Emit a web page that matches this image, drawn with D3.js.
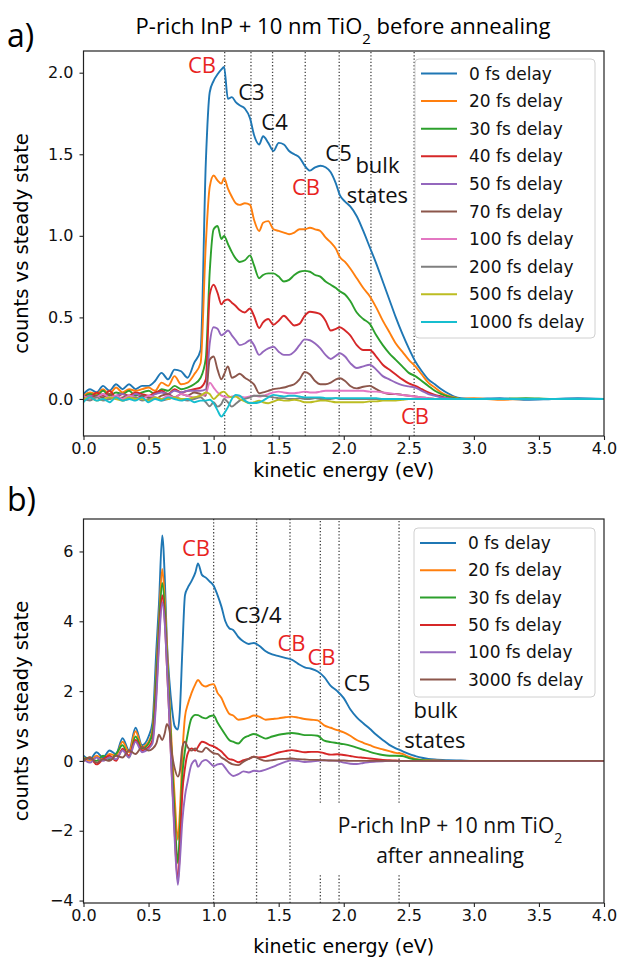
<!DOCTYPE html>
<meta charset="utf-8">

<!-- Load d3.js -->
<script src="https://cdn.jsdelivr.net/npm/d3@7"></script>

<style>
  body { margin: 0; background: #fff; }
</style>

<div id="my_dataviz"></div>
<script>

// ---------- panel a) data : before annealing ----------
var energyA = [
  0.00,0.05,0.10,0.15,0.20,0.25,0.30,0.35,0.40,0.45,0.50,0.55,0.60,0.65,0.70,0.75,0.80,0.85,0.90,
  0.94,0.97,1.00,1.03,1.06,1.08,1.11,1.14,1.17,1.20,1.24,1.28,1.31,1.35,1.38,1.42,1.46,1.50,1.54,1.58,1.62,1.66,1.70,1.74,1.78,1.82,1.86,1.90,1.94,1.97,2.01,2.05,
  2.10,2.15,2.20,2.25,2.30,2.35,2.40,2.45,2.50,2.55,2.60,2.65,2.70,2.75,2.80,2.85,2.90,
  3.0,3.2,3.4,3.6,3.8,4.0]

var delaysA = ["0 fs delay","20 fs delay","30 fs delay","40 fs delay","50 fs delay",
               "70 fs delay","100 fs delay","200 fs delay","500 fs delay","1000 fs delay"]

var a0 = [
  0.03,0.06,0.04,0.08,0.05,0.09,0.06,0.09,0.06,0.08,0.08,0.11,0.16,0.12,0.18,0.17,0.13,0.22,0.30,
  1.45,1.88,1.95,1.99,2.02,2.035,1.84,1.85,1.82,1.80,1.78,1.72,1.62,1.56,1.61,1.57,1.52,1.57,1.56,1.52,1.50,1.48,1.43,1.40,1.42,1.43,1.42,1.39,1.32,1.25,1.21,1.18,
  1.12,1.03,0.93,0.83,0.72,0.61,0.50,0.40,0.31,0.23,0.17,0.12,0.09,0.06,0.035,0.015,0.005,
  0.0,0.005,-0.005,0.0,0.005,0.0]
var a20 = [
  0.02,0.04,0.03,0.06,0.03,0.07,0.04,0.06,0.05,0.06,0.07,0.05,0.10,0.08,0.14,0.09,0.10,0.15,0.22,
  0.95,1.30,1.37,1.34,1.32,1.355,1.29,1.24,1.20,1.19,1.20,1.19,1.10,1.03,1.08,1.09,1.04,1.03,1.02,1.01,1.02,1.04,1.04,1.05,1.04,1.03,0.99,0.96,0.92,0.87,0.84,0.80,
  0.74,0.68,0.63,0.56,0.48,0.41,0.34,0.29,0.24,0.20,0.15,0.10,0.07,0.04,0.02,0.01,0.0,
  0.005,-0.005,0.0,0.0,0.0,0.0]
var a30 = [
  0.01,0.03,0.02,0.05,0.02,0.04,0.03,0.05,0.02,0.04,0.05,0.03,0.06,0.05,0.08,0.06,0.07,0.09,0.13,
  0.25,0.78,1.04,1.06,0.98,1.00,0.95,0.90,0.86,0.84,0.85,0.88,0.82,0.74,0.76,0.77,0.77,0.75,0.72,0.73,0.76,0.78,0.785,0.78,0.76,0.75,0.72,0.70,0.68,0.66,0.64,0.60,
  0.53,0.49,0.46,0.39,0.33,0.28,0.24,0.20,0.16,0.14,0.11,0.08,0.05,0.03,0.015,0.005,0.0,
  0,0,0.005,0,0,0]
var a40 = [
  0.02,0.01,0.04,0.02,0.05,0.01,0.03,0.02,0.04,0.03,0.02,0.04,0.05,0.03,0.06,0.04,0.05,0.06,0.07,
  0.12,0.64,0.70,0.65,0.58,0.60,0.61,0.59,0.57,0.545,0.53,0.555,0.51,0.435,0.47,0.49,0.455,0.48,0.51,0.48,0.45,0.46,0.51,0.535,0.53,0.52,0.48,0.42,0.43,0.44,0.42,0.39,
  0.33,0.30,0.30,0.26,0.21,0.18,0.15,0.12,0.095,0.08,0.06,0.04,0.025,0.015,0.005,0.0,0.0,
  0,0,0,0,0,0]
var a50 = [
  0.00,0.02,0.01,0.03,0.00,0.02,0.03,0.01,0.03,0.02,0.01,0.03,0.04,0.03,0.05,0.04,0.05,0.05,0.05,
  0.06,0.34,0.44,0.43,0.39,0.40,0.42,0.39,0.36,0.33,0.34,0.36,0.33,0.27,0.29,0.31,0.32,0.29,0.27,0.27,0.29,0.33,0.365,0.36,0.34,0.31,0.27,0.245,0.265,0.28,0.26,0.22,
  0.19,0.20,0.21,0.18,0.14,0.12,0.10,0.085,0.077,0.07,0.05,0.03,0.02,0.01,0.005,0,0,
  0,0,0,0,0,0]
var a70 = [
  0.01,0.00,0.02,0.01,0.03,0.00,0.01,0.02,0.00,0.02,0.01,0.00,0.02,0.03,0.01,0.03,0.02,0.04,0.03,
  0.02,0.24,0.26,0.18,0.12,0.15,0.20,0.13,0.14,0.155,0.13,0.11,0.09,0.035,0.04,0.05,0.06,0.065,0.07,0.08,0.09,0.12,0.165,0.15,0.11,0.09,0.09,0.10,0.12,0.127,0.11,0.08,
  0.065,0.075,0.08,0.06,0.04,0.03,0.03,0.025,0.02,0.015,0.01,0.005,0,0,0,0,0,
  0,0,0,0,0,0]
var a100 = [
  0.02,0.00,0.01,0.03,0.01,0.02,0.00,0.02,0.01,0.00,0.02,0.01,0.00,0.02,0.01,0.03,0.02,0.01,0.02,
  0.03,0.10,0.07,0.04,0.02,0.015,0.01,0.015,0.02,0.015,0.01,0.015,0.02,0.015,0.02,0.03,0.04,0.045,0.04,0.035,0.035,0.04,0.045,0.04,0.04,0.045,0.05,0.05,0.05,0.05,0.05,0.05,
  0.05,0.05,0.045,0.045,0.04,0.035,0.03,0.025,0.02,0.015,0.01,0.005,0,0,0,0,0,
  0,0,0,0,0,0]
var a200 = [
  0.00,-0.01,0.01,-0.01,0.00,0.01,-0.01,0.00,0.01,-0.01,0.00,0.01,-0.01,0.00,0.01,0.00,-0.01,0.00,0.01,
  -0.02,-0.045,-0.02,-0.047,-0.03,0.0,-0.02,-0.047,-0.03,-0.01,0.0,0.01,0.02,0.02,0.02,0.015,0.01,0.005,0.005,0.0,0.0,0.005,0.0,0.0,0.005,0,0,0,0.005,0,0,0,
  0,0,0,0,0,0,0,0,0,0,0,0,0,0,0,0,0,
  0,0,0,0,0,0]
var a500 = [
  0.00,0.01,-0.01,0.00,0.01,0.00,-0.01,0.01,0.00,0.00,-0.01,0.01,0.00,0.00,0.01,0.00,0.00,0.01,0.02,
  0.04,0.03,0.0,0.02,0.04,0.045,0.02,0.01,0.015,0.0,-0.015,-0.026,-0.02,-0.01,-0.02,-0.026,-0.015,-0.005,-0.01,-0.01,-0.005,-0.01,-0.02,-0.02,-0.015,-0.01,-0.01,-0.015,-0.02,-0.02,-0.02,-0.02,
  -0.02,-0.02,-0.015,-0.015,-0.01,-0.01,-0.01,-0.005,0,0,0,0,0,0,0,0,0,
  0,0,0,0,0,0]
var a1000 = [
  -0.02,0.01,-0.01,0.00,-0.02,0.01,-0.01,0.00,-0.01,0.01,-0.02,0.00,-0.01,0.01,0.00,-0.01,0.00,-0.02,-0.01,
  -0.01,-0.005,-0.026,-0.07,-0.108,-0.09,-0.05,0.0,0.025,0.02,-0.01,-0.025,-0.025,-0.02,-0.01,0.01,0.025,0.02,0.015,0.02,0.02,0.015,0.01,0.01,0.01,0.01,0.005,0.005,0.005,0.005,0.005,0.005,
  0.005,0.005,0.005,0.005,0,0,0,0,0,0,0,0,0,0,0,0,0,
  0,0,0,0,0,0]

var markersA = [1.085, 1.287, 1.453, 1.704, 1.965, 2.209, 2.541]
var ticksYA = [0.0, 0.5, 1.0, 1.5, 2.0]

// ---------- panel b) data : after annealing ----------
var energyB = [
  0.00,0.05,0.10,0.15,0.20,0.25,0.30,0.35,0.40,0.45,0.50,
  0.53,0.56,0.58,0.605,0.625,0.64,0.66,0.68,0.70,0.725,0.74,0.76,0.78,0.80,0.83,0.86,0.88,0.91,0.94,0.97,1.00,
  1.03,1.06,1.09,1.12,1.15,1.19,1.23,1.27,1.31,1.35,1.40,1.45,1.50,1.55,1.60,
  1.65,1.70,1.75,1.80,1.85,1.90,1.95,2.00,2.05,2.10,2.15,2.20,2.25,2.30,2.35,2.40,2.45,2.50,2.55,2.60,2.65,2.70,
  2.80,2.90,3.00,3.50,4.00]

var delaysB = ["0 fs delay","20 fs delay","30 fs delay","50 fs delay","100 fs delay","3000 fs delay"]

var b0 = [
  0.15,0.05,0.25,0.10,0.30,0.20,0.65,0.30,0.95,0.45,0.70,
  1.10,3.2,4.5,6.46,5.2,3.5,2.3,1.5,1.0,0.9,1.4,3.2,4.75,4.95,5.15,5.4,5.66,5.33,5.25,5.14,5.02,
  4.75,4.42,4.0,3.8,3.75,3.55,3.42,3.35,3.38,3.30,3.14,3.05,3.0,2.95,2.9,
  2.78,2.68,2.64,2.56,2.40,2.15,2.00,1.80,1.48,1.25,1.08,0.92,0.75,0.60,0.46,0.36,0.28,0.20,0.14,0.09,0.06,0.04,
  0.02,0.01,0.0,0.0,0.0]
var b20 = [
  0.10,0.00,0.15,0.05,0.20,0.15,0.55,0.25,0.85,0.40,0.55,
  0.9,2.6,4.0,5.5,4.6,3.4,1.8,0.3,-1.0,-2.26,-1.5,0.2,1.27,1.6,1.94,2.2,2.32,2.18,2.13,2.18,2.2,
  1.95,1.8,1.55,1.35,1.3,1.18,1.2,1.24,1.3,1.27,1.18,1.2,1.22,1.25,1.27,
  1.24,1.2,1.18,1.16,1.02,0.95,0.88,0.82,0.72,0.6,0.52,0.45,0.38,0.33,0.28,0.23,0.2,0.12,0.06,0.03,0.02,0.01,
  0,0,0,0,0]
var b30 = [
  0.05,0.10,0.00,0.15,0.05,0.20,0.45,0.10,0.70,0.35,0.50,
  0.8,2.4,3.8,5.1,4.3,3.1,1.6,0.0,-1.5,-2.93,-2.0,-0.4,0.3,0.75,1.22,1.32,1.31,1.25,1.22,1.28,1.30,
  1.1,0.92,0.75,0.6,0.55,0.5,0.65,0.72,0.77,0.72,0.64,0.7,0.75,0.78,0.80,
  0.78,0.74,0.74,0.72,0.58,0.54,0.51,0.48,0.44,0.38,0.32,0.26,0.21,0.17,0.15,0.15,0.14,0.08,0.04,0.02,0.01,0.0,
  0,0,0,0,0]
var b50 = [
  0.00,0.10,-0.10,0.05,0.15,0.00,0.35,0.15,0.60,0.30,0.40,
  0.6,2.0,3.5,4.75,4.0,2.8,1.2,-0.5,-2.0,-3.45,-2.6,-0.9,-0.2,0.2,0.36,0.30,0.4,0.55,0.52,0.45,0.42,
  0.35,0.27,0.15,0.05,0.03,-0.04,0.02,0.06,0.12,0.1,0.12,0.18,0.24,0.28,0.31,
  0.28,0.25,0.26,0.26,0.22,0.18,0.19,0.17,0.14,0.11,0.09,0.07,0.05,0.03,0.02,0.01,0,0,0,0,0,0,
  0,0,0,0,0]
var b100 = [
  0.05,-0.05,0.10,0.00,0.10,0.05,0.30,0.10,0.55,0.25,0.35,
  0.5,1.8,3.3,4.55,3.9,2.8,1.2,-0.6,-2.2,-3.55,-2.9,-1.7,-1.0,-0.6,-0.1,0.02,-0.17,-0.02,0.03,-0.05,-0.15,
  -0.1,-0.08,-0.2,-0.35,-0.43,-0.38,-0.3,-0.33,-0.28,-0.3,-0.25,-0.18,-0.1,-0.03,0.02,
  0.0,-0.03,-0.02,0.0,0.02,0.01,0.0,-0.05,-0.08,-0.09,-0.06,-0.03,-0.02,-0.01,0,0,0,0,0,0,0,0,
  0,0,0,0,0]
var b3000 = [
  0.00,0.10,-0.05,0.05,0.00,0.15,0.10,0.30,0.20,0.40,0.30,
  0.35,0.5,0.75,0.6,0.8,1.05,0.9,0.2,-0.2,-0.45,-0.3,0.4,0.55,0.4,0.3,0.36,0.28,0.26,0.38,0.3,0.22,
  0.2,0.1,0.03,-0.05,-0.1,-0.12,-0.02,0.06,0.12,0.06,0.0,0.02,0.05,0.06,0.07,
  0.05,0.04,0.03,0.03,0.02,0.01,0.01,0.01,0,0,0,0,0,0,0,0,0,0,0,0,0,0,
  0,0,0,0,0]

var markersB = [1.0, 1.33, 1.587, 1.82, 1.964, 2.425]
var gapB = [-1.2, -3.27]          // text window cut out of the last three markers
var ticksYB = [-4, -2, 0, 2, 4, 6]

var ticksX = [0, 0.5, 1.0, 1.5, 2.0, 2.5, 3.0, 3.5, 4.0]

// matplotlib default cycle
var colors = ["#1f77b4","#ff7f0e","#2ca02c","#d62728","#9467bd",
              "#8c564b","#e377c2","#7f7f7f","#bcbd22","#17becf"]

// ---------- figure ----------
var svg = d3.select("#my_dataviz")
  .append("svg")
    .attr("width", 619)
    .attr("height", 957)
    .style("font-family", "'DejaVu Sans', sans-serif")

var annoFont = "'Open Sans', sans-serif"

function drawPanel(p) {
  var x = d3.scaleLinear().domain([0, 4]).range([p.left, p.left + p.width])
  var y = d3.scaleLinear().domain(p.ylim).range([p.top + p.height, p.top])

  svg.append("clipPath").attr("id", p.id + "clip")
    .append("rect")
      .attr("x", p.left).attr("y", p.top)
      .attr("width", p.width).attr("height", p.height)

  // dotted marker lines
  var mk = svg.append("g").attr("clip-path", "url(#" + p.id + "clip)")
  p.markers.forEach(function(m, i) {
    var segs = [[p.ylim[0], p.ylim[1]]]
    if (p.gap && i >= p.gapFrom) segs = [[p.gap[0], p.ylim[1]], [p.ylim[0], p.gap[1]]]
    segs.forEach(function(s) {
      mk.append("line")
        .attr("x1", x(m)).attr("x2", x(m))
        .attr("y1", y(s[0])).attr("y2", y(s[1]))
        .style("stroke", "#444")
        .style("stroke-width", 1.3)
        .style("stroke-dasharray", "1.3,2")
    })
  })

  // curves
  var line = d3.line()
    .x(function(d, i) { return x(p.energy[i]) })
    .y(function(d) { return y(d) })
    .curve(d3.curveMonotoneX)

  svg.append("g")
    .attr("clip-path", "url(#" + p.id + "clip)")
    .selectAll("path")
    .data(p.series)
    .enter()
    .append("path")
      .attr("d", function(d) { return line(d) })
      .style("fill", "none")
      .style("stroke", function(d, i) { return colors[i] })
      .style("stroke-width", 1.9)
      .style("stroke-linejoin", "round")

  // axes
  var xa = svg.append("g")
    .attr("transform", "translate(0," + (p.top + p.height) + ")")
    .call(d3.axisBottom(x).tickValues(ticksX).tickFormat(d3.format(".1f")).tickSizeOuter(0).tickSize(4).tickPadding(3))
  var ya = svg.append("g")
    .attr("transform", "translate(" + p.left + ",0)")
    .call(d3.axisLeft(y).tickValues(p.yticks).tickFormat(p.yfmt).tickSizeOuter(0).tickSize(4).tickPadding(6))
  ;[xa, ya].forEach(function(a) {
    a.select(".domain").remove()
    a.selectAll("line").style("stroke", "#222").style("stroke-width", 1.1)
    a.selectAll("text").style("font-size", "16px").style("fill", "#111")
      .style("font-family", "'DejaVu Sans', sans-serif")
  })

  // frame
  svg.append("rect")
    .attr("x", p.left).attr("y", p.top)
    .attr("width", p.width).attr("height", p.height)
    .style("fill", "none")
    .style("stroke", "#222")
    .style("stroke-width", 1.2)

  // axis labels
  svg.append("text")
    .attr("text-anchor", "middle")
    .attr("x", p.left + p.width / 2)
    .attr("y", p.xlabelY)
    .style("font-size", "19px")
    .text("kinetic energy (eV)")
  svg.append("text")
    .attr("text-anchor", "middle")
    .attr("transform", "translate(28," + (p.top + p.height / 2) + ") rotate(-90)")
    .style("font-size", "19.5px")
    .text("counts vs steady state")

  // annotations in data coordinates
  p.notes.forEach(function(n) {
    var t = svg.append("text")
      .attr("text-anchor", "middle")
      .attr("x", x(n[1]))
      .attr("y", y(n[2]))
      .attr("dy", "0.35em")
      .style("font-family", annoFont)
      .style("font-size", (n[4] || 22) + "px")
      .style("fill", n[3] || "#111")
    if (n[0].indexOf("TiO2") >= 0) {
      t.append("tspan").text(n[0].replace("TiO2", "TiO"))
      t.append("tspan").attr("baseline-shift", "sub").style("font-size", "14px").text("2")
    } else {
      t.text(n[0])
    }
  })

  // legend
  var lg = svg.append("g")
  lg.append("rect")
    .attr("x", p.legend.x).attr("y", p.legend.y)
    .attr("width", p.legend.w).attr("height", p.legend.h)
    .attr("rx", 4)
    .style("fill", "#fff").style("fill-opacity", 0.85)
    .style("stroke", "#d0d0d0")
  p.labels.forEach(function(lab, i) {
    var yy = p.legend.y + p.legend.first + i * p.legend.step
    lg.append("line")
      .attr("x1", p.legend.x + 6).attr("x2", p.legend.x + 42)
      .attr("y1", yy).attr("y2", yy)
      .style("stroke", colors[i]).style("stroke-width", 2)
    lg.append("text")
      .attr("x", p.legend.x + 54).attr("y", yy).attr("dy", "0.36em")
      .style("font-size", "17px").style("fill", "#111")
      .text(lab)
  })
}

drawPanel({
  id: "a", left: 83.5, top: 51, width: 520.5, height: 385,
  ylim: [-0.227, 2.133], yticks: ticksYA, yfmt: d3.format(".1f"),
  energy: energyA, series: [a0, a20, a30, a40, a50, a70, a100, a200, a500, a1000],
  labels: delaysA, markers: markersA, xlabelY: 477,
  legend: {x: 415, y: 59, w: 180, h: 279, first: 14.5, step: 27.6},
  notes: [["CB", 0.911, 2.048, "#e8241f"], ["C3", 1.291, 1.882], ["C4", 1.468, 1.698],
          ["CB", 1.710, 1.300, "#e8241f"], ["C5", 1.960, 1.508], ["bulk", 2.259, 1.435],
          ["states", 2.259, 1.251], ["CB", 2.548, -0.104, "#e8241f"]]
})

drawPanel({
  id: "b", left: 83.5, top: 519, width: 520.5, height: 384,
  ylim: [-4.07, 6.93], yticks: ticksYB, yfmt: function(d) { return d < 0 ? "\u2212" + Math.abs(d) : d },
  energy: energyB, series: [b0, b20, b30, b50, b100, b3000],
  labels: delaysB, markers: markersB, gap: gapB, gapFrom: 3, xlabelY: 953,
  legend: {x: 414, y: 528, w: 181, h: 169, first: 15, step: 27.3},
  notes: [["CB", 0.865, 6.10, "#e8241f"], ["C3/4", 1.341, 4.18], ["CB", 1.598, 3.38, "#e8241f"],
          ["CB", 1.829, 2.98, "#e8241f"], ["C5", 2.102, 2.21], ["bulk", 2.705, 1.46],
          ["states", 2.701, 0.60], ["P-rich InP + 10 nm TiO2", 2.817, -1.86, null, 21],
          ["after annealing", 2.817, -2.70, null, 21]]
})

// panel letters and title
svg.append("text").attr("x", 7).attr("y", 47)
  .style("font-family", annoFont).style("font-size", "32px").text("a)")
svg.append("text").attr("x", 7).attr("y", 511)
  .style("font-family", annoFont).style("font-size", "32px").text("b)")

var title = svg.append("text")
  .attr("text-anchor", "middle")
  .attr("x", 343).attr("y", 34)
  .style("font-family", annoFont).style("font-size", "22px")
title.append("tspan").text("P-rich InP + 10 nm TiO")
title.append("tspan").attr("baseline-shift", "sub").style("font-size", "15px").text("2")
title.append("tspan").text(" before annealing")

</script>
